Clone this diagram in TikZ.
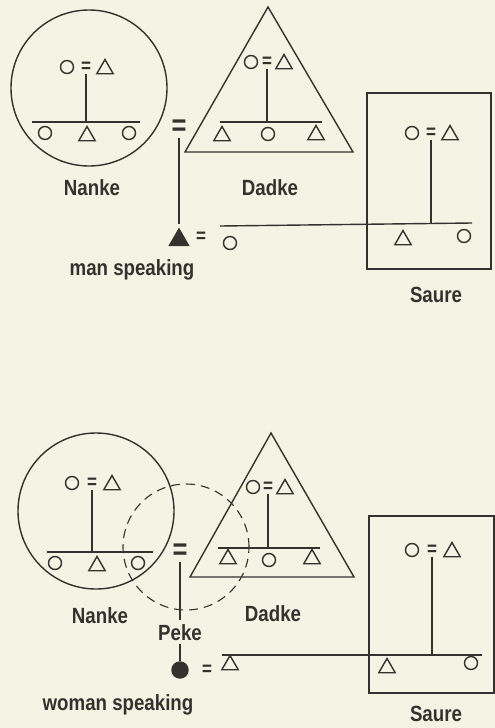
\documentclass[tikz,border=0pt]{standalone}
\usepackage{fontspec}
\setmainfont{Liberation Sans}[FakeStretch=0.85]
\usetikzlibrary{shapes.geometric}
\definecolor{papel}{RGB}{245,243,227}
\definecolor{tinta}{RGB}{52,50,46}

\begin{document}
\begin{tikzpicture}[x=1pt, y=-1pt, line width=1.4pt, color=tinta,
	mujer/.style={circle, draw, minimum size=13pt, inner sep=0pt},
	hombre/.style={regular polygon, regular polygon sides=3, draw, minimum size=19pt, inner sep=0pt},
	igual/.style={inner sep=1pt, font=\bfseries\fontsize{20}{20}\selectfont},
	igualg/.style={inner sep=1pt, font=\bfseries\fontsize{30}{30}\selectfont},
	nombre/.style={anchor=base, font=\bfseries\fontsize{22}{22}\selectfont}]
	% Fondo
	\fill[papel] (0,0) rectangle (495,728);
	\useasboundingbox (0,0) rectangle (495,728);
	
	% ===== Arriba: habla el hombre =====
	% Nanke
	\draw (89,88) circle [radius=78pt];
	\node[mujer] (a-n-m) at (67,67) {};
	\node[igual] (a-n-eq) at (86,67) {=};
	\node[hombre] (a-n-h) at (105,69) {};
	\coordinate (a-n-l) at (32,122);
	\coordinate (a-n-r) at (140,122);
	\draw (a-n-l) -- (a-n-r);
	\draw (a-n-eq.south) -- (a-n-eq.south |- a-n-l);
	\node[mujer] (a-n-c1) at (45,133) {};
	\node[hombre] (a-n-c2) at (87,136) {};
	\node[mujer] (a-n-c3) at (129,133) {};
	\node[nombre] (a-nanke) at (92,195) {Nanke};
	
	% Dadke
	\draw (268,7) -- (353,152) -- (185,152) -- cycle;
	\node[mujer] (a-d-m) at (251,62) {};
	\node[igual] (a-d-eq) at (267,62) {=};
	\node[hombre] (a-d-h) at (284,64) {};
	\coordinate (a-d-l) at (220,122);
	\coordinate (a-d-r) at (322,122);
	\draw (a-d-l) -- (a-d-r);
	\draw (a-d-eq.south) -- (a-d-eq.south |- a-d-l);
	\node[hombre] (a-d-c1) at (222,136) {};
	\node[mujer] (a-d-c2) at (268,134) {};
	\node[hombre] (a-d-c3) at (316,135) {};
	\node[nombre] (a-dadke) at (270,195) {Dadke};
	
	% Saure
	\draw (367,93) rectangle (491,269);
	\node[mujer] (a-s-m) at (412,133) {};
	\node[igual] (a-s-eq) at (431,133) {=};
	\node[hombre] (a-s-h) at (450,135) {};
	\coordinate (a-s-l) at (220,226);
	\coordinate (a-s-r) at (472,223);
	\draw (a-s-l) -- (a-s-r);
	\draw (a-s-eq.south) -- (a-s-eq.south |- a-s-r);
	\node[hombre] (a-s-c1) at (403,240) {};
	\node[mujer] (a-s-c2) at (464,236) {};
	\node[nombre] (a-saure) at (436,302) {Saure};
	
	% Ego
	\node[igualg] (a-eq) at (179,128) {=};
	\node[hombre, fill, minimum size=22pt] (a-ego) at (179,240) {};
	\draw[shorten >=4pt] (a-eq.south) -- (a-ego.north);
	\node[igual] (a-eq2) at (201,237) {=};
	\node[mujer] (a-esp) at (230,243) {};
	\node[nombre] (a-txt) at (132,275) {man speaking};
	
	% ===== Abajo: habla la mujer =====
	% Nanke
	\draw (96,511) circle [radius=78pt];
	\node[mujer] (b-n-m) at (72,483) {};
	\node[igual] (b-n-eq) at (92,483) {=};
	\node[hombre] (b-n-h) at (112,485) {};
	\coordinate (b-n-l) at (47,552);
	\coordinate (b-n-r) at (153,552);
	\draw (b-n-l) -- (b-n-r);
	\draw (b-n-eq.south) -- (b-n-eq.south |- b-n-l);
	\node[mujer] (b-n-c1) at (55,563) {};
	\node[hombre] (b-n-c2) at (97,566) {};
	\node[mujer] (b-n-c3) at (138,563) {};
	\node[nombre] (b-nanke) at (100,623) {Nanke};
	
	% Peke (circulo punteado)
	\draw[line width=1.1pt, dash pattern=on 9pt off 6pt] (186,547) circle [radius=63pt];
	
	% Dadke
	\draw (271,433) -- (354,577) -- (190,577) -- cycle;
	\node[mujer] (b-d-m) at (253,487) {};
	\node[igual] (b-d-eq) at (268,487) {=};
	\node[hombre] (b-d-h) at (285,489) {};
	\coordinate (b-d-l) at (218,548);
	\coordinate (b-d-r) at (320,548);
	\draw (b-d-l) -- (b-d-r);
	\draw (b-d-eq.south) -- (b-d-eq.south |- b-d-l);
	\node[hombre] (b-d-c1) at (228,559) {};
	\node[mujer] (b-d-c2) at (269,560) {};
	\node[hombre] (b-d-c3) at (312,559) {};
	\node[nombre] (b-dadke) at (273,621) {Dadke};
	
	% Saure
	\draw (369,516) rectangle (494,693);
	\node[mujer] (b-s-m) at (412,550) {};
	\node[igual] (b-s-eq) at (432,550) {=};
	\node[hombre] (b-s-h) at (452,552) {};
	\coordinate (b-s-l) at (222,655);
	\coordinate (b-s-r) at (482,655);
	\draw (b-s-l) -- (b-s-r);
	\draw (b-s-eq.south) -- (b-s-eq.south |- b-s-l);
	\node[hombre] (b-s-c1) at (387,668) {};
	\node[mujer] (b-s-c2) at (471,663) {};
	\node[nombre] (b-saure) at (436,721) {Saure};
	
	% Ego
	\node[igualg] (b-eq) at (180,552) {=};
	\node[nombre] (b-peke) at (180,640) {Peke};
	\node[mujer, fill, minimum size=16pt] (b-ego) at (180,670) {};
	\draw (b-eq.south) -- (b-peke.north);
	\draw (b-peke.south) -- (b-ego.north);
	\node[igual] (b-eq2) at (207,670) {=};
	\node[hombre] (b-esp) at (230,665) {};
	\node[nombre] (b-txt) at (118,710) {woman speaking};
\end{tikzpicture}
\end{document}
